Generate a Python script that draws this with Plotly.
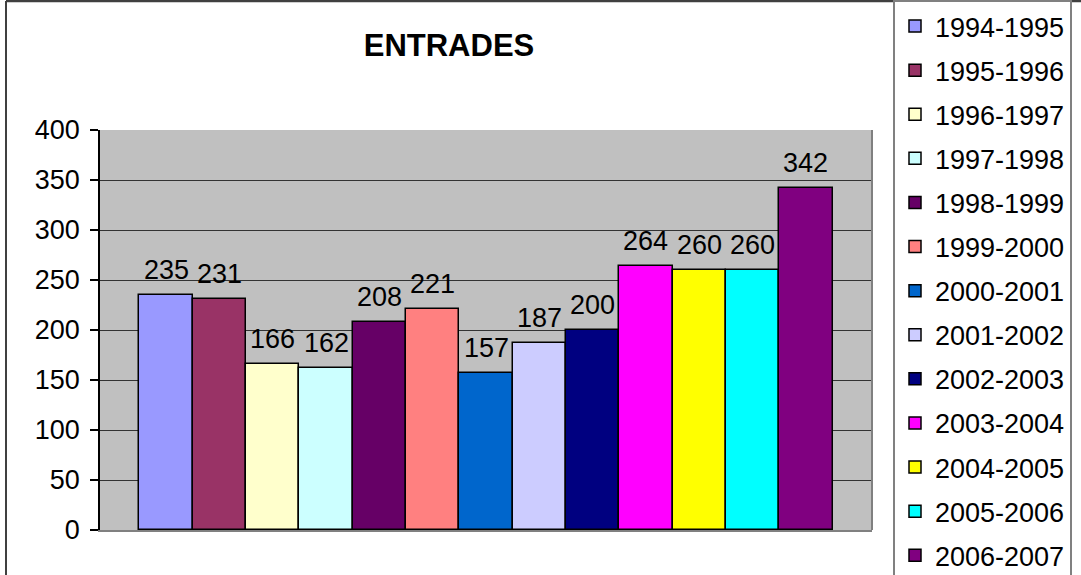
import plotly.graph_objects as go

seasons = ["1994-1995", "1995-1996", "1996-1997", "1997-1998", "1998-1999",
           "1999-2000", "2000-2001", "2001-2002", "2002-2003", "2003-2004",
           "2004-2005", "2005-2006", "2006-2007"]
values = [235, 231, 166, 162, 208, 221, 157, 187, 200, 264, 260, 260, 342]
colors = ["#9999FF", "#993366", "#FFFFCC", "#CCFFFF", "#660066", "#FF8080",
          "#0066CC", "#CCCCFF", "#000080", "#FF00FF", "#FFFF00", "#00FFFF",
          "#800080"]
y_ticks = [0, 50, 100, 150, 200, 250, 300, 350, 400]

FONT = "Arial, Liberation Sans, sans-serif"
W, H = 1081, 575
ML, MR, MT, MB = 100, 209, 130, 45
PW, PH = W - ML - MR, H - MT - MB


def px_x(px):
    return (px - ML) / PW


def px_y(py):
    return (H - MB - py) / PH


fig = go.Figure()
for i, (s, v, c) in enumerate(zip(seasons, values, colors)):
    fig.add_trace(go.Bar(
        x=[s], y=[v], name=s, width=1,
        marker=dict(color=c, line=dict(color="black", width=1.5)),
        legendgroup=s,
    ))
    fig.add_annotation(x=s, y=v, text=str(v), showarrow=False,
                       yanchor="bottom", yshift=8,
                       font=dict(family=FONT, size=27, color="black"))

fig.update_layout(
    width=W, height=H,
    margin=dict(l=ML, r=MR, t=MT, b=MB),
    paper_bgcolor="white",
    plot_bgcolor="#C0C0C0",
    barmode="overlay",
    bargap=0,
    title=dict(text="<b>ENTRADES</b>", x=449 / W, xref="container",
               xanchor="center", y=1 - 45 / H, yref="container",
               yanchor="middle",
               font=dict(family=FONT, size=31, color="black")),
    font=dict(family=FONT, size=27, color="black"),
    showlegend=True,
    legend=dict(
        xref="container", yref="container",
        x=893 / W, y=1.0, xanchor="left", yanchor="top",
        bgcolor="white", bordercolor="#808080", borderwidth=2,
        font=dict(family=FONT, size=27, color="black"),
        tracegroupgap=6, itemclick=False, maxheight=800,
    ),
    xaxis=dict(
        categoryorder="array", categoryarray=seasons,
        range=[-1.24, 13.24], showticklabels=False, showgrid=False,
        ticks="", showline=True, linecolor="#808080", linewidth=2,
        fixedrange=True, zeroline=False,
    ),
    yaxis=dict(
        range=[0, 400], tickvals=y_ticks, showgrid=True,
        gridcolor="#333333", gridwidth=1, showline=True, linecolor="black",
        linewidth=1.5, ticks="outside", ticklen=8, tickcolor="black",
        tickwidth=1.5, ticklabelstandoff=5, zeroline=False,
        tickfont=dict(family=FONT, size=27, color="black"),
    ),
    shapes=[
        # plot area right border
        dict(type="line", xref="paper", yref="paper", x0=1, x1=1, y0=0, y1=1,
             line=dict(color="#808080", width=2)),
        # outer chart frame
        dict(type="line", xref="paper", yref="paper", x0=px_x(6), x1=px_x(1081),
             y0=px_y(1), y1=px_y(1), line=dict(color="#404040", width=2.5)),
        dict(type="line", xref="paper", yref="paper", x0=px_x(6), x1=px_x(6),
             y0=px_y(1), y1=px_y(575), line=dict(color="#404040", width=2)),
    ],
)

fig.write_html("out.html",
               config={"displayModeBar": False},
               post_script="document.body.style.margin='0';"
                           "document.body.style.overflow='hidden';")
